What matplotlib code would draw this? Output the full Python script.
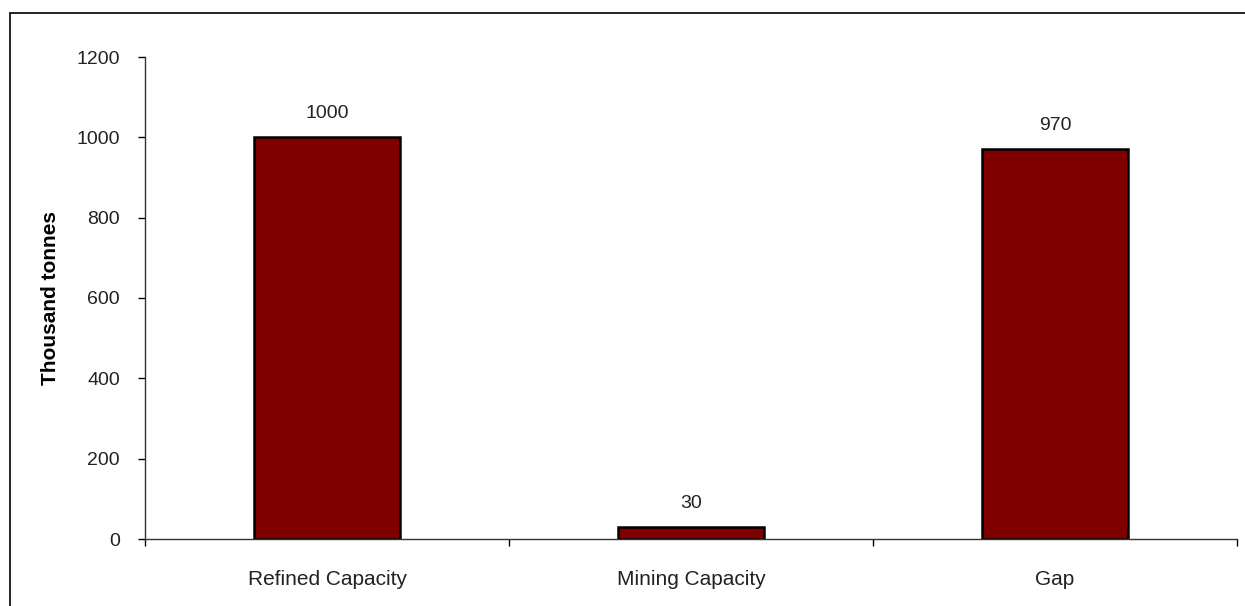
import numpy as np
import matplotlib.pyplot as plt
from matplotlib.patches import Rectangle

plt.rcParams['font.family'] = ['Liberation Sans', 'DejaVu Sans']

categories = ['Refined Capacity', 'Mining Capacity', 'Gap']
values = [1000, 30, 970]
yticks = [0, 200, 400, 600, 800, 1000, 1200]

fig = plt.figure(figsize=(12.45, 6.06), dpi=100)
ax = fig.add_axes([145 / 1245, 1 - 539 / 606, (1237 - 145) / 1245, (539 - 57) / 606])

# outer frame of the chart area
fig.patches.append(Rectangle((10 / 1245, -0.1), 1.2, 1 - 13 / 606 + 0.1,
                             transform=fig.transFigure, fill=False,
                             edgecolor='black', linewidth=1.2))

x = np.arange(len(categories))
bars = ax.bar(x, values, width=0.4, color='#800000', edgecolor='black', linewidth=1.8)

for xi, v in zip(x, values):
    ax.annotate(str(v), (xi, v), xytext=(0, 11), textcoords='offset points',
                ha='center', va='bottom', fontsize=14, color='#222222')

ax.set_xlim(-0.5, len(categories) - 0.5)
ax.set_ylim(0, 1200)
ax.set_yticks(yticks)
ax.set_xticks(x)
ax.set_xticklabels(categories, fontsize=15, color='#222222')
ax.set_xticks(np.arange(-0.5, len(categories)), minor=True)
ax.tick_params(axis='x', which='major', length=0, pad=22)
ax.tick_params(axis='x', which='minor', length=5, width=1, direction='out')
ax.tick_params(axis='y', length=5, width=1, direction='out', labelsize=14,
               labelcolor='#222222', pad=13)

for s in ['top', 'right']:
    ax.spines[s].set_visible(False)
for s in ['left', 'bottom']:
    ax.spines[s].set_linewidth(1)
    ax.spines[s].set_color('#333333')

ax.set_ylabel('Thousand tonnes', fontsize=15, fontweight='bold', labelpad=12)

fig.savefig('out.png', dpi=100)
